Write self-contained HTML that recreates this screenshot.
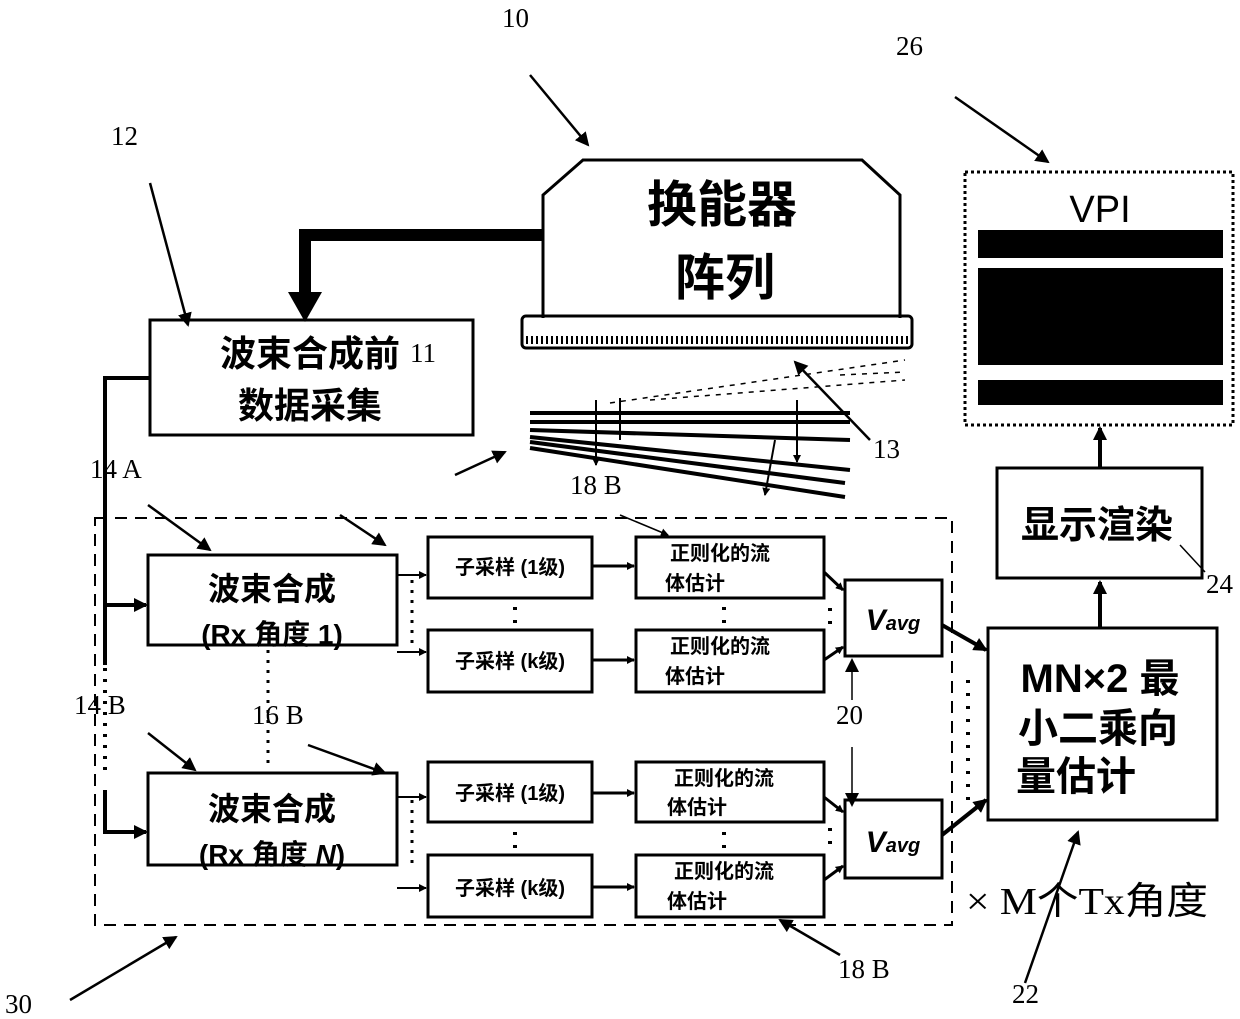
<!DOCTYPE html>
<html><head><meta charset="utf-8"><style>
html,body{margin:0;padding:0;background:#fff;}
svg{display:block;}
.cj{font-family:"Liberation Sans","Noto Sans CJK SC",sans-serif;font-weight:bold;}
.sf{font-family:"Liberation Serif",serif;}
</style></head><body>
<svg width="1240" height="1019" viewBox="0 0 1240 1019" xmlns="http://www.w3.org/2000/svg">
<defs>
<marker id="a" markerWidth="8" markerHeight="8" refX="7" refY="4" orient="auto" markerUnits="userSpaceOnUse"><path d="M0,0L8,4L0,8z" fill="#000"/></marker>
<marker id="b" markerWidth="14" markerHeight="14" refX="12" refY="7" orient="auto" markerUnits="userSpaceOnUse"><path d="M0,0L14,7L0,14z" fill="#000"/></marker>
</defs>
<g fill="none" stroke="#000">
<path d="M543,318V195L583,160H862L900,195V318" stroke-width="3" fill="#fff"/>
<rect x="522" y="316" width="390" height="32" rx="4" stroke-width="3"/>
<line x1="526" y1="340" x2="908" y2="340" stroke-width="8" stroke-dasharray="2 3"/>
<polyline points="543,235 305,235 305,300" stroke-width="12"/>
<path d="M288,292L322,292L305,322z" fill="#000" stroke="none"/>
<rect x="150" y="320" width="323" height="115" stroke-width="3"/>
<polyline points="150,378 105,378 105,665" stroke-width="4"/>
<line x1="105" y1="668" x2="105" y2="775" stroke-width="4" stroke-dasharray="3 8"/>
<polyline points="105,790 105,832 146,832" stroke-width="4" marker-end="url(#b)"/>
<line x1="105" y1="605" x2="146" y2="605" stroke-width="4" marker-end="url(#b)"/>
<rect x="95" y="518" width="857" height="407" stroke-width="2" stroke-dasharray="12 8"/>
<rect x="148" y="555" width="249" height="90" stroke-width="3"/>
<rect x="148" y="773" width="249" height="92" stroke-width="3"/>
<line x1="268" y1="650" x2="268" y2="768" stroke-width="3" stroke-dasharray="3 7"/>
<line x1="412" y1="580" x2="412" y2="650" stroke-width="3" stroke-dasharray="3 7"/>
<line x1="412" y1="800" x2="412" y2="870" stroke-width="3" stroke-dasharray="3 7"/>
<polyline points="397,575 426,575" stroke-width="2" marker-end="url(#a)"/>
<polyline points="397,652 426,652" stroke-width="2" marker-end="url(#a)"/>
<polyline points="397,797 426,797" stroke-width="2" marker-end="url(#a)"/>
<polyline points="397,888 426,888" stroke-width="2" marker-end="url(#a)"/>
<rect x="428" y="537" width="164" height="61" stroke-width="3"/>
<rect x="428" y="630" width="164" height="62" stroke-width="3"/>
<rect x="428" y="762" width="164" height="60" stroke-width="3"/>
<rect x="428" y="855" width="164" height="62" stroke-width="3"/>
<rect x="636" y="537" width="188" height="61" stroke-width="3"/>
<rect x="636" y="630" width="188" height="62" stroke-width="3"/>
<rect x="636" y="762" width="188" height="60" stroke-width="3"/>
<rect x="636" y="855" width="188" height="62" stroke-width="3"/>
<line x1="592" y1="566" x2="634" y2="566" stroke-width="3" marker-end="url(#a)"/>
<line x1="592" y1="660" x2="634" y2="660" stroke-width="3" marker-end="url(#a)"/>
<line x1="592" y1="793" x2="634" y2="793" stroke-width="3" marker-end="url(#a)"/>
<line x1="592" y1="887" x2="634" y2="887" stroke-width="3" marker-end="url(#a)"/>
<g stroke-width="4" stroke-dasharray="3 10"><line x1="515" y1="607" x2="515" y2="625"/><line x1="724" y1="607" x2="724" y2="625"/><line x1="515" y1="832" x2="515" y2="850"/><line x1="724" y1="832" x2="724" y2="850"/><line x1="830" y1="608" x2="830" y2="630"/><line x1="830" y1="828" x2="830" y2="850"/><line x1="968" y1="680" x2="968" y2="800"/></g>
<rect x="845" y="580" width="97" height="76" stroke-width="3"/>
<rect x="845" y="800" width="97" height="78" stroke-width="3"/>
<line x1="824" y1="572" x2="843" y2="590" stroke-width="3" marker-end="url(#a)"/>
<line x1="824" y1="660" x2="843" y2="647" stroke-width="3" marker-end="url(#a)"/>
<line x1="824" y1="797" x2="843" y2="812" stroke-width="3" marker-end="url(#a)"/>
<line x1="824" y1="880" x2="843" y2="866" stroke-width="3" marker-end="url(#a)"/>
<line x1="942" y1="625" x2="986" y2="650" stroke-width="4" marker-end="url(#b)"/>
<line x1="942" y1="835" x2="986" y2="800" stroke-width="4" marker-end="url(#b)"/>
<rect x="988" y="628" width="229" height="192" stroke-width="3"/>
<rect x="997" y="468" width="205" height="110" stroke-width="3"/>
<line x1="1100" y1="628" x2="1100" y2="582" stroke-width="4" marker-end="url(#b)"/>
<line x1="1100" y1="468" x2="1100" y2="428" stroke-width="4" marker-end="url(#b)"/>
<rect x="965" y="172" width="268" height="253" stroke-width="3" stroke-dasharray="3 3"/>
<g stroke-width="4"><path d="M530,413L850,413"/><path d="M530,422L850,422"/><path d="M530,430L850,440"/><path d="M530,437L850,470"/><path d="M530,442L845,483"/><path d="M530,448L845,497"/></g>
<g stroke-width="1.5" stroke-dasharray="5 6"><path d="M610,403L905,360"/><path d="M650,400L905,380"/><path d="M840,375L905,372"/></g>
<g stroke-width="2"><line x1="596" y1="400" x2="596" y2="465" marker-end="url(#a)"/><line x1="620" y1="398" x2="620" y2="440"/><line x1="797" y1="400" x2="797" y2="462" marker-end="url(#a)"/><line x1="775" y1="440" x2="765" y2="495" marker-end="url(#a)"/></g>
<g stroke-width="2.5">
<line x1="530" y1="75" x2="588" y2="145" marker-end="url(#b)"/>
<line x1="150" y1="183" x2="188" y2="325" marker-end="url(#b)"/>
<line x1="955" y1="97" x2="1048" y2="162" marker-end="url(#b)"/>
<line x1="870" y1="440" x2="795" y2="362" marker-end="url(#b)"/>
<line x1="455" y1="475" x2="505" y2="452" marker-end="url(#b)"/>
<line x1="148" y1="505" x2="210" y2="550" marker-end="url(#b)"/>
<line x1="340" y1="515" x2="385" y2="545" marker-end="url(#b)"/>
<line x1="620" y1="515" x2="668" y2="535" stroke-width="1.5" marker-end="url(#a)"/>
<line x1="148" y1="733" x2="195" y2="770" marker-end="url(#b)"/>
<line x1="308" y1="745" x2="385" y2="773" marker-end="url(#b)"/>
<line x1="852" y1="700" x2="852" y2="660" stroke-width="1.5" marker-end="url(#b)"/>
<line x1="852" y1="747" x2="852" y2="805" stroke-width="1.5" marker-end="url(#b)"/>
<line x1="1180" y1="545" x2="1205" y2="572" stroke-width="1.5"/>
<line x1="70" y1="1000" x2="176" y2="937" marker-end="url(#b)"/>
<line x1="840" y1="955" x2="780" y2="920" marker-end="url(#b)"/>
<line x1="1025" y1="983" x2="1078" y2="832" marker-end="url(#b)"/>
</g>
</g>
<rect x="978" y="230" width="245" height="28" fill="#000"/>
<rect x="978" y="268" width="245" height="97" fill="#000"/>
<rect x="978" y="380" width="245" height="25" fill="#000"/>
<g class="cj" text-anchor="middle" fill="#000">
<text x="722" y="222" font-size="50">换能器</text>
<text x="725" y="295" font-size="50">阵列</text>
<text x="310" y="366" font-size="36">波束合成前</text>
<text x="310" y="418" font-size="36">数据采集</text>
<text x="272" y="600" font-size="32">波束合成</text>
<text x="272" y="644" font-size="28">(Rx 角度 1)</text>
<text x="272" y="820" font-size="32">波束合成</text>
<text x="272" y="864" font-size="28">(Rx 角度 <tspan font-style="italic">N</tspan>)</text>
<text x="510" y="574" font-size="20">子采样 (1级)</text>
<text x="510" y="668" font-size="20">子采样 (k级)</text>
<text x="510" y="800" font-size="20">子采样 (1级)</text>
<text x="510" y="895" font-size="20">子采样 (k级)</text>
<text x="720" y="560" font-size="20">正则化的流</text><text x="695" y="590" font-size="20">体估计</text>
<text x="720" y="653" font-size="20">正则化的流</text><text x="695" y="683" font-size="20">体估计</text>
<text x="724" y="785" font-size="20">正则化的流</text><text x="697" y="814" font-size="20">体估计</text>
<text x="724" y="878" font-size="20">正则化的流</text><text x="697" y="908" font-size="20">体估计</text>
<text x="893" y="630" font-size="30" font-style="italic">V<tspan font-size="20">avg</tspan></text>
<text x="893" y="852" font-size="30" font-style="italic">V<tspan font-size="20">avg</tspan></text>
<text x="1100" y="692" font-size="40">MN×2 最</text>
<text x="1098" y="742" font-size="40">小二乘向</text>
<text x="1076" y="790" font-size="40">量估计</text>
<text x="1097" y="538" font-size="38">显示渲染</text>
<text x="1100" y="222" font-size="38" font-weight="normal">VPI</text>
</g>
<g class="sf" font-size="27" fill="#000">
<text x="502" y="27">10</text>
<text x="111" y="145">12</text>
<text x="896" y="55">26</text>
<text x="410" y="362">11</text>
<text x="873" y="458">13</text>
<text x="90" y="478">14 A</text>
<text x="570" y="494">18 B</text>
<text x="1206" y="593">24</text>
<text x="252" y="724">16 B</text>
<text x="74" y="714">14 B</text>
<text x="836" y="724">20</text>
<text x="838" y="978">18 B</text>
<text x="1012" y="1003">22</text>
<text x="5" y="1013">30</text>
<text x="966" y="914" font-size="38" textLength="242" lengthAdjust="spacingAndGlyphs">× M个Tx角度</text>
</g>
</svg>
</body></html>
